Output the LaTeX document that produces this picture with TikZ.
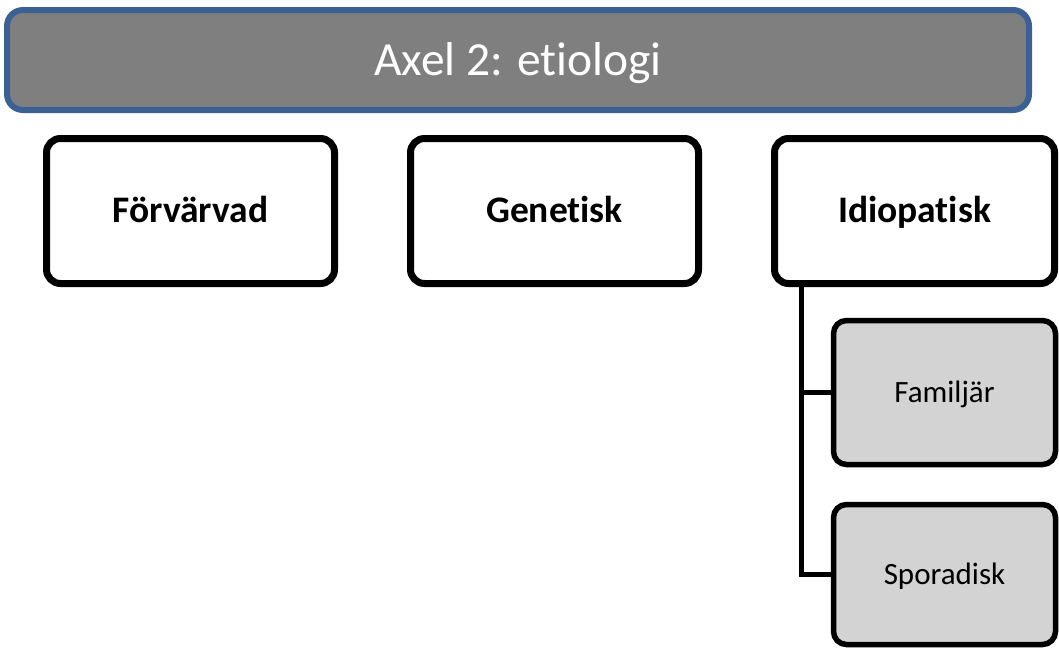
\documentclass[tikz,border=0pt]{standalone}
\usepackage{fontspec}
\setmainfont[RawFeature={-liga}]{Carlito}
\definecolor{hdrfill}{HTML}{7F7F7F}
\definecolor{hdrline}{HTML}{3B6194}
\definecolor{subfill}{HTML}{D3D3D3}
\begin{document}
\begin{tikzpicture}[x=1pt,y=-1pt,
  header/.style={draw=hdrline, fill=hdrfill, line width=6pt, rounded corners=16pt,
    minimum width=1022pt, minimum height=100pt, inner sep=0pt,
    text height=30pt, text depth=0pt,
    font=\fontsize{47.5}{52}\selectfont, text=white},
  mainbox/.style={draw=black, fill=white, line width=7pt, rounded corners=14pt,
    minimum width=288pt, minimum height=145pt, inner sep=0pt,
    text height=23.6pt, text depth=0pt,
    font=\fontsize{37.5}{42}\selectfont\bfseries},
  subbox/.style={draw=black, fill=subfill, line width=5.5pt, rounded corners=13pt,
    minimum width=222pt, inner sep=0pt,
    text height=19.5pt, text depth=0pt,
    font=\fontsize{31}{35}\selectfont},
  link/.style={draw=black, line width=5pt}
]
\useasboundingbox (0,0) rectangle (1059,648);
\node[header] (hdr) at (518,60) {Axel 2: etiologi};
\node[mainbox] (forv) at (190.5,211) {Förvärvad};
\node[mainbox] (gen) at (554.5,211) {Genetisk};
\node[mainbox, minimum width=280pt] (idio) at (914.5,211) {Idiopatisk};
\node[subbox, minimum height=144pt] (fam) at (944.5,392.5) {Familjär};
\node[subbox, minimum height=140pt] (spo) at (944.5,574.5) {Sporadisk};
\coordinate (trunk) at ([xshift=30pt]idio.south west);
\draw[link] (trunk) |- (fam.west);
\draw[link] (trunk) |- (spo.west);
\end{tikzpicture}
\end{document}
